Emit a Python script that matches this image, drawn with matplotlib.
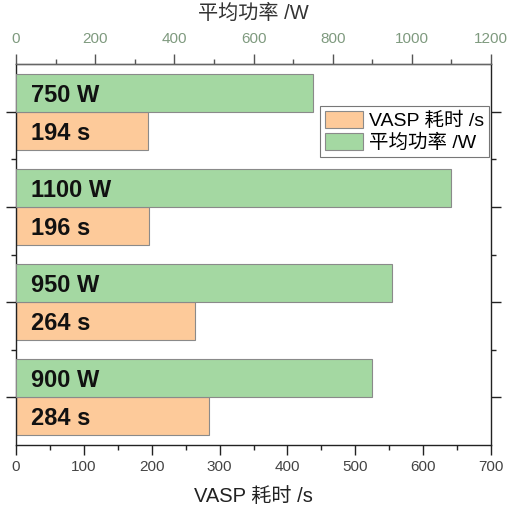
import numpy as np
import matplotlib
matplotlib.use('Agg')
import matplotlib.pyplot as plt
from matplotlib.ticker import MultipleLocator, FixedLocator, NullFormatter

plt.rcParams['font.family'] = ['Liberation Sans', 'Noto Sans CJK SC', 'DejaVu Sans']

# data, top to bottom
power = [750, 1100, 950, 900]        # 平均功率 /W
vasp_time = [194, 196, 264, 284]     # VASP 耗时 /s
power_labels = ['750 W', '1100 W', '950 W', '900 W']
time_labels = ['194 s', '196 s', '264 s', '284 s']

green = '#a4d8a2'
orange = '#fdca9a'
edge = '#8a8a8a'

fig = plt.figure(figsize=(5.12, 5.12), dpi=100)
ax = fig.add_axes([16/512, 1-445/512, 475/512, 381/512])
ax2 = ax.twiny()

pos = np.arange(len(power))
h = 0.4

ax.barh(pos + h/2, vasp_time, height=h, color=orange, edgecolor=edge, linewidth=0.8, label='VASP 耗时 /s')
ax2.barh(pos - h/2, power, height=h, color=green, edgecolor=edge, linewidth=0.8, label='平均功率 /W')

for i in range(len(power)):
    ax2.text(0.032, pos[i] - h/2, power_labels[i], transform=ax2.get_yaxis_transform(),
             fontsize=17, fontweight='bold', va='center_baseline', ha='left', color='#111111')
    ax2.text(0.032, pos[i] + h/2, time_labels[i], transform=ax2.get_yaxis_transform(),
             fontsize=17, fontweight='bold', va='center_baseline', ha='left', color='#111111')

ax.set_xlim(0, 700)
ax2.set_xlim(0, 1200)
ax.set_ylim(3.5, -0.5)

ax.xaxis.set_major_locator(MultipleLocator(100))
ax.xaxis.set_minor_locator(MultipleLocator(50))
ax2.xaxis.set_major_locator(MultipleLocator(200))
ax2.xaxis.set_minor_locator(MultipleLocator(100))
ax.yaxis.set_major_locator(FixedLocator(pos))
ax.yaxis.set_minor_locator(FixedLocator([0.5, 1.5, 2.5]))
ax.yaxis.set_major_formatter(NullFormatter())

ax.tick_params(axis='x', which='major', length=7, width=1, colors='#222222', labelcolor='#444444', labelsize=11, pad=4)
ax.tick_params(axis='x', which='minor', length=3.5, width=1, colors='#222222')
ax2.tick_params(axis='x', which='major', length=7, width=1, colors='#555555', labelcolor='#7f9a7f', labelsize=11, pad=6)
ax2.tick_params(axis='x', which='minor', length=3.5, width=1, colors='#555555')
ax.tick_params(axis='y', which='major', length=7, width=1, left=True, right=True, colors='#222222')
ax.tick_params(axis='y', which='minor', length=3.5, width=1, left=True, right=True, colors='#222222')

for s in ax.spines.values():
    s.set_color('#222222')
    s.set_linewidth(1)
ax2.spines['top'].set_color('#666666')
for s in ['left', 'right', 'bottom']:
    ax2.spines[s].set_visible(False)

ax.set_xlabel('VASP 耗时 /s', fontsize=14.5, color='#222222', labelpad=9)
ax2.set_xlabel('平均功率 /W', fontsize=14.5, color='#333333', labelpad=9)

h1, l1 = ax.get_legend_handles_labels()
h2, l2 = ax2.get_legend_handles_labels()
leg = ax2.legend(h1 + h2, l1 + l2, loc='upper right', bbox_to_anchor=(0.995, 0.89),
                 fontsize=14, frameon=True, fancybox=False, edgecolor='#555555',
                 handlelength=1.95, handleheight=1.0, handletextpad=0.3,
                 labelspacing=0.15, borderpad=0.25, borderaxespad=0)
leg.get_frame().set_linewidth(0.8)

fig.savefig('out.png', dpi=100)
